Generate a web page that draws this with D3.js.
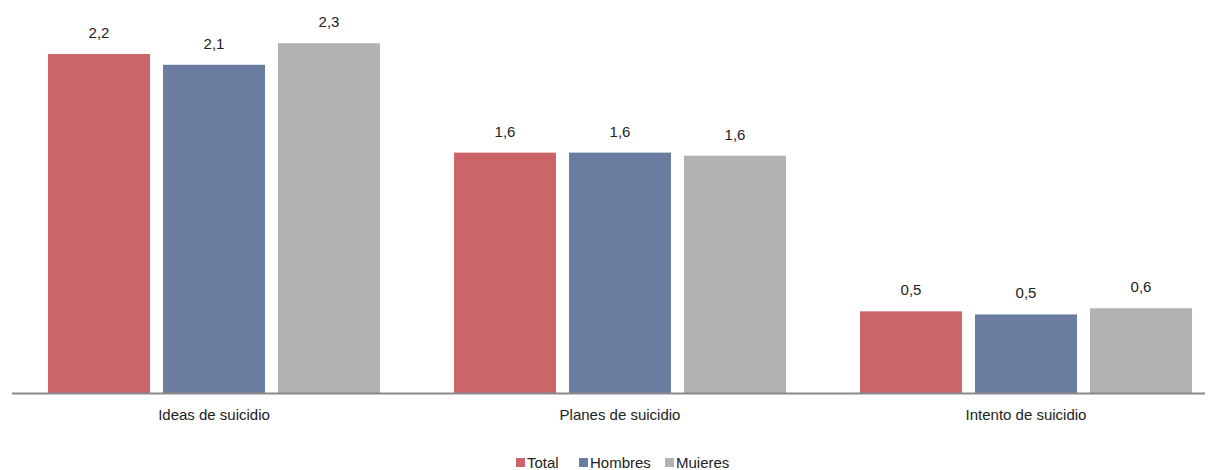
<!DOCTYPE html>
<html><head><meta charset="utf-8">
<script src="https://cdn.jsdelivr.net/npm/d3@7"></script>
<style>body{margin:0;background:#fff}svg{display:block}text{font-family:"Liberation Sans",Arial,sans-serif;fill:#222}</style>
</head><body>
<svg id="c" width="1217" height="470"></svg>
<script>
const categories = ["Ideas de suicidio", "Planes de suicidio", "Intento de suicidio"];
const seriesNames = ["Total", "Hombres", "Mujeres"];
const legendLabels = ["Total", "Hombres", "Muieres"];
const total   = [2.20, 1.56, 0.53];
const hombres = [2.13, 1.56, 0.51];
const mujeres = [2.27, 1.54, 0.55];
const totalLabels   = ["2,2", "1,6", "0,5"];
const hombresLabels = ["2,1", "1,6", "0,5"];
const mujeresLabels = ["2,3", "1,6", "0,6"];
const colors = ["#cc6569", "#6b7ca1", "#b3b1b2"];

const seriesVals = [total, hombres, mujeres];
const seriesLbls = [totalLabels, hombresLabels, mujeresLabels];
const svg = d3.select("#c");
const baseY = 393;
const y = d3.scaleLinear().domain([0, 2.2]).range([baseY, 54]);
const x0 = d3.scaleBand().domain(categories).range([11, 1229]).padding(0);
const x1 = d3.scaleBand().domain(seriesNames).range([0, 332]).paddingInner(0.113).paddingOuter(0);

const g = svg.append("g");
categories.forEach((c, i) => {
  const gx = x0(c) + x0.bandwidth() / 2 - 166;
  seriesNames.forEach((s, j) => {
    const v = seriesVals[j][i];
    g.append("rect").attr("x", gx + x1(s)).attr("y", y(v))
      .attr("width", x1.bandwidth()).attr("height", baseY - y(v)).attr("fill", colors[j]);
    g.append("text").attr("x", gx + x1(s) + x1.bandwidth() / 2).attr("y", y(v) - 16)
      .attr("text-anchor", "middle").attr("font-size", 15).text(seriesLbls[j][i]);
  });
});
svg.append("line").attr("x1", 12).attr("x2", 1205).attr("y1", baseY + 0.5).attr("y2", baseY + 0.5)
  .attr("stroke", "#8a8a8a").attr("stroke-width", 2);
const ax = svg.append("g").attr("transform", `translate(0,${baseY})`)
  .call(d3.axisBottom(x0).tickSize(0).tickPadding(16));
ax.select(".domain").remove();
ax.selectAll("text").attr("font-size", 15).attr("fill", "#222").style("font-family", '"Liberation Sans",Arial,sans-serif');

const legX = [516, 579, 665];
legendLabels.forEach((l, j) => {
  svg.append("rect").attr("x", legX[j]).attr("y", 458).attr("width", 9).attr("height", 9).attr("fill", colors[j]);
  svg.append("text").attr("x", legX[j] + 11).attr("y", 468).attr("font-size", 15).text(l);
});
</script>
</body></html>
